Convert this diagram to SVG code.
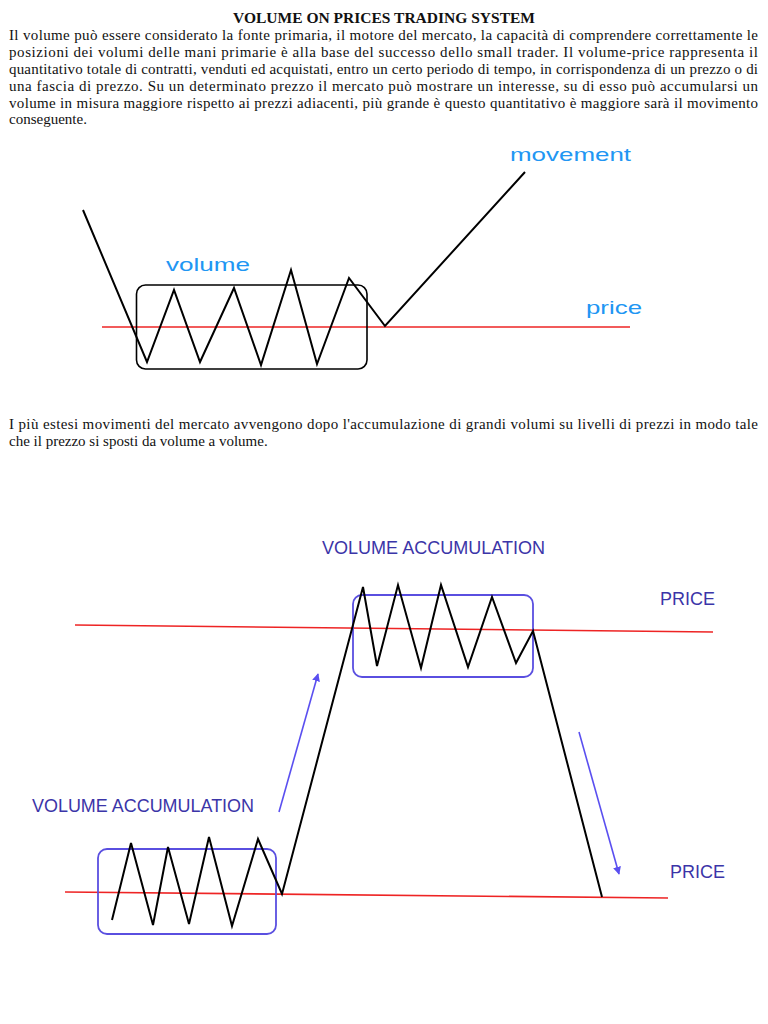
<svg xmlns="http://www.w3.org/2000/svg" width="768" height="1024" viewBox="0 0 768 1024">
<defs>
<style>
.body{font-family:"Liberation Serif","Times New Roman",serif;font-size:15px;fill:#111}
.title{font-family:"Liberation Serif","Times New Roman",serif;font-size:15px;font-weight:bold;fill:#111}
.lbl1{font-family:"Liberation Sans",Arial,sans-serif;font-size:19px;fill:#2196f3}
.lbl2{font-family:"Liberation Sans",Arial,sans-serif;font-size:17.5px;fill:#3b35a8}
.price{stroke:#ee2424;stroke-width:1.6;fill:none}
.zig{stroke:#000;stroke-width:2;fill:none;stroke-linejoin:miter}
.box1{stroke:#000;stroke-width:1.6;fill:none}
.box2{stroke:#5a4fe0;stroke-width:1.8;fill:none}
.arr{stroke:#5a4ff0;stroke-width:1.6;fill:none}
</style>
<marker id="ah" viewBox="0 0 10 10" refX="9" refY="5" markerWidth="8" markerHeight="8" markerUnits="userSpaceOnUse" orient="auto"><path d="M0,0 L10,5 L0,10 z" fill="#5a4ff0"/></marker>
</defs>
<rect width="768" height="1024" fill="#fff"/>

<g id="text">
<text class="title" x="233" y="23" textLength="302" lengthAdjust="spacingAndGlyphs">VOLUME ON PRICES TRADING SYSTEM</text>
<text class="body" x="9" y="40" textLength="749" lengthAdjust="spacing">Il volume può essere considerato la fonte primaria, il motore del mercato, la capacità di comprendere correttamente le</text>
<text class="body" x="9" y="57" textLength="749" lengthAdjust="spacing">posizioni dei volumi delle mani primarie è alla base del successo dello small trader. Il volume-price rappresenta il</text>
<text class="body" x="9" y="74" textLength="749" lengthAdjust="spacing">quantitativo totale di contratti, venduti ed acquistati, entro un certo periodo di tempo, in corrispondenza di un prezzo o di</text>
<text class="body" x="9" y="91" textLength="749" lengthAdjust="spacing">una fascia di prezzo. Su un determinato prezzo il mercato può mostrare un interesse, su di esso può accumularsi un</text>
<text class="body" x="9" y="108" textLength="749" lengthAdjust="spacing">volume in misura maggiore rispetto ai prezzi adiacenti, più grande è questo quantitativo è maggiore sarà il movimento</text>
<text class="body" x="9" y="124">conseguente.</text>
<text class="body" x="9" y="429" textLength="749" lengthAdjust="spacing">I più estesi movimenti del mercato avvengono dopo l'accumulazione di grandi volumi su livelli di prezzi in modo tale</text>
<text class="body" x="9" y="446">che il prezzo si sposti da volume a volume.</text>
</g>

<g id="diagram1">
<g id="d1-price"><line class="price" x1="102" y1="327" x2="630" y2="327"/><text class="lbl1" x="586" y="314" textLength="56" lengthAdjust="spacingAndGlyphs">price</text></g>
<g id="d1-volume"><rect class="box1" x="136.5" y="285" width="230.5" height="84" rx="9"/><text class="lbl1" x="166" y="271" textLength="84" lengthAdjust="spacingAndGlyphs">volume</text></g>
<g id="d1-movement"><text class="lbl1" x="510" y="161" textLength="121" lengthAdjust="spacingAndGlyphs">movement</text></g>
</g>

<g id="diagram2">
<g id="d2-price-top"><line class="price" x1="75" y1="625" x2="713" y2="632"/><text class="lbl2" x="660" y="605" textLength="55" lengthAdjust="spacingAndGlyphs">PRICE</text></g>
<g id="d2-price-bottom"><line class="price" x1="65" y1="892" x2="668" y2="898"/><text class="lbl2" x="670" y="878" textLength="55" lengthAdjust="spacingAndGlyphs">PRICE</text></g>
<g id="d2-acc-top"><rect class="box2" x="353" y="595" width="180" height="82" rx="9"/><text class="lbl2" x="322" y="554" textLength="223" lengthAdjust="spacingAndGlyphs">VOLUME ACCUMULATION</text></g>
<g id="d2-acc-bottom"><rect class="box2" x="98" y="849" width="178" height="85" rx="9"/><text class="lbl2" x="32" y="812" textLength="222" lengthAdjust="spacingAndGlyphs">VOLUME ACCUMULATION</text></g>
</g>

<g id="connectors">
<polyline class="zig" points="83,210 147,362 174,290 200,362 234,288 261,365 291,270 317,364 349,278 385,326 525,172"/>
<polyline class="zig" points="112,920 131,843 153,925 168,847 189,924 209,837 232,926 258,839 282,894 363,587 377,666 398,585 421,668 441,585 468,667 492,597 516,663 533,631 602,897"/>
<line class="arr" x1="279" y1="812" x2="318" y2="674" marker-end="url(#ah)"/>
<line class="arr" x1="579" y1="732" x2="619" y2="874" marker-end="url(#ah)"/>
</g>
</svg>
